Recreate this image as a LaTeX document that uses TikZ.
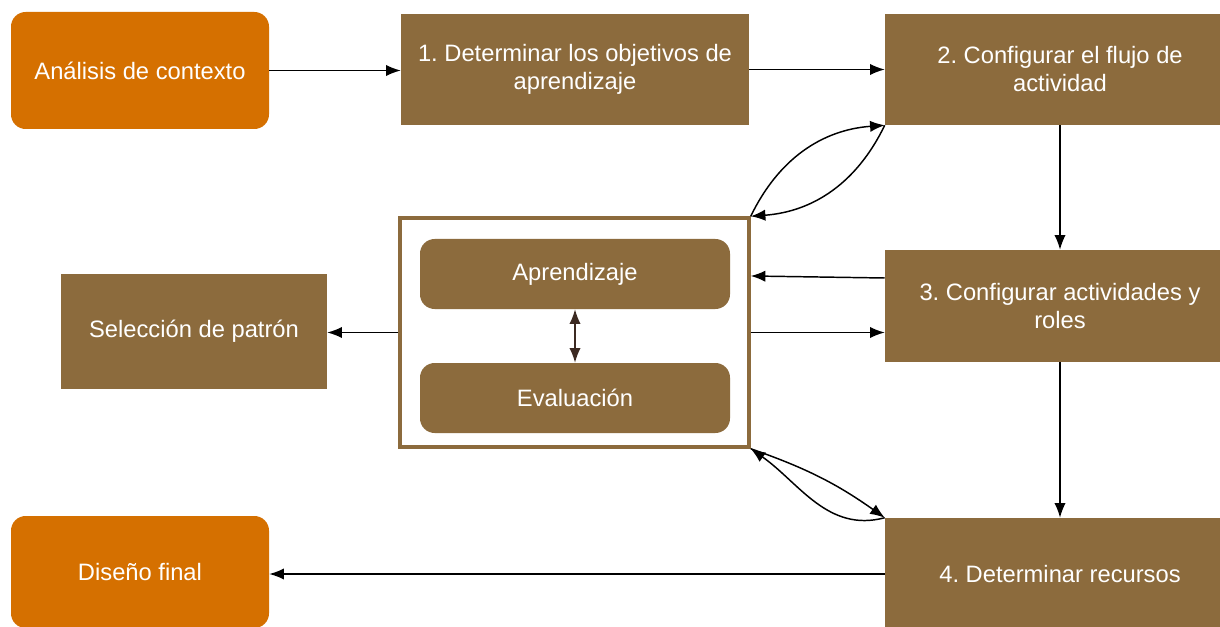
\documentclass[tikz,border=0pt]{standalone}
\usepackage{fontspec}
\setmainfont{Liberation Sans}
\usetikzlibrary{arrows.meta}
\definecolor{orangebox}{RGB}{213,112,0}
\definecolor{brownbox}{RGB}{140,107,61}
\definecolor{darkbrown}{RGB}{60,42,34}
\tikzset{
  every node/.style={font=\fontsize{17.8}{21}\selectfont\frenchspacing, text=white, align=center, inner sep=0pt},
  stepbox/.style={fill=brownbox, draw=none},
  endbox/.style={fill=orangebox, draw=none, rounded corners=11pt},
  phasebox/.style={fill=brownbox, draw=none, rounded corners=11pt},
  groupbox/.style={draw=brownbox, line width=2.6pt, fill=white},
  flow/.style={draw=black, line width=1.1pt, -{Latex[length=11pt,width=8.5pt]}},
  pair/.style={draw=darkbrown, line width=1.1pt, {Latex[length=11pt,width=8.5pt]}-{Latex[length=11pt,width=8.5pt]}}
}
\begin{document}
\begin{tikzpicture}[x=0.75pt,y=-0.75pt]
  \clip (0,0) rectangle (1220,627);
  \fill[white] (0,0) rectangle (1220,627);

  % left column
  \node[endbox, minimum width=193.5pt, minimum height=87.75pt] (ctx) at (140,70.5) {Análisis de contexto};
  \node[stepbox, minimum width=199.5pt, minimum height=86.25pt] (sel) at (194,331.5) {Selección de patrón};
  \node[endbox, minimum width=193.5pt, minimum height=84pt] (fin) at (140,572) {Diseño final};

  % middle column
  \node[stepbox, minimum width=261pt, minimum height=83.25pt] (b1) at (575,69.5)
    {1. Determinar los objetivos de\\aprendizaje};
  \node[groupbox, minimum width=261.75pt, minimum height=171.75pt] (grp) at (574.5,332.5) {};
  \node[phasebox, minimum width=232.5pt, minimum height=52.5pt] (apr) at (575,274) {Aprendizaje};
  \node[phasebox, minimum width=232.5pt, minimum height=52.5pt] (eva) at (575,398) {Evaluación};

  % right column
  \node[stepbox, minimum width=262.5pt, minimum height=83.25pt] (b2) at (1060,69.5)
    {2. Configurar el flujo de\\actividad};
  \node[stepbox, minimum width=262.5pt, minimum height=84pt] (b3) at (1060,306)
    {3. Configurar actividades y\\roles};
  \node[stepbox, minimum width=262.5pt, minimum height=84pt] (b4) at (1060,574)
    {4. Determinar recursos};

  % main flow
  \draw[flow] (ctx.east) -- (ctx.east -| b1.west);
  \draw[flow] (b1.east) -- (b1.east -| b2.west);
  \draw[flow] (b2) -- (b3);
  \draw[flow] (b3) -- (b4);
  \draw[flow] (b4.west) -- (b4.west -| fin.east);

  % exchanges with the activity group
  \draw[flow] ([yshift=21pt]b3.west) -- ([yshift=42.4pt]grp.east);
  \draw[flow] (grp.east) -- (grp.east -| b3.west);
  \draw[flow] (grp.west) -- (grp.west -| sel.east);
  \draw[pair] (apr) -- (eva);

  \draw[flow] (grp.north east) to[bend left=30] (b2.south west);
  \draw[flow] (b2.south west) to[bend left=30] (grp.north east);
  \draw[flow] (grp.south east) to[bend left=8] (b4.north west);
  \draw[flow] (b4.north west) to[out=195,in=-35] (grp.south east);
\end{tikzpicture}
\end{document}
